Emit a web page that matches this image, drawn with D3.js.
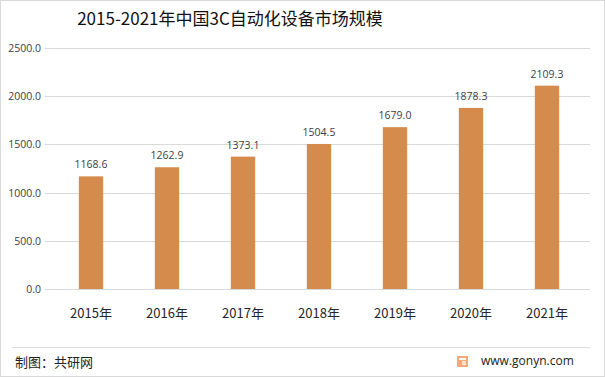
<!DOCTYPE html>
<html>
<head>
<meta charset="utf-8">
<script src="https://cdn.jsdelivr.net/npm/d3@7"></script>
<style>
  body { margin: 0; background: #fff; }
  text { font-family: "Open Sans", "Noto Sans CJK SC", sans-serif; }
</style>
</head>
<body>
<div id="container"></div>
<script>
let years = ['2015年', '2016年', '2017年', '2018年', '2019年', '2020年', '2021年'],
  values = [1168.6, 1262.9, 1373.1, 1504.5, 1679.0, 1878.3, 2109.3],
  yTicks = [0, 500, 1000, 1500, 2000, 2500];

let width = 605, height = 377,
  plot = { left: 53, right: 585, top: 48, bottom: 289 };

let svg = d3.select('#container')
  .append('svg')
  .attr('width', width)
  .attr('height', height)

// outer frame
svg.append('rect')
  .attr('x', 0.5).attr('y', 0.5)
  .attr('width', width - 1).attr('height', height - 1)
  .attr('fill', 'none').attr('stroke', '#d9d9d9')

svg.append('text')
  .attr('x', 230).attr('y', 25)
  .attr('text-anchor', 'middle')
  .style('font-size', '17px')
  .style('fill', '#111')
  .style('font-family', '"Noto Sans CJK SC", sans-serif')
  .text('2015-2021年中国3C自动化设备市场规模')

let y = d3.scaleLinear().domain([0, 2500]).range([plot.bottom, plot.top])
let x = d3.scaleBand().domain(years).range([plot.left, plot.right]).paddingInner(0.68).paddingOuter(0.34)

// grid
svg.append('g').selectAll('line')
  .data(yTicks).enter().append('line')
  .attr('x1', 45).attr('x2', 590)
  .attr('y1', d => Math.round(y(d)) + 0.5)
  .attr('y2', d => Math.round(y(d)) + 0.5)
  .attr('stroke', '#d9d9d9')

svg.append('g').selectAll('text')
  .data(yTicks).enter().append('text')
  .attr('x', 41)
  .attr('y', d => y(d) + 4)
  .attr('text-anchor', 'end')
  .style('font-size', '10.5px')
  .style('fill', '#404040')
  .text(d => d.toFixed(1))

// bars
svg.append('g').selectAll('rect')
  .data(values).enter().append('rect')
  .attr('x', (d, i) => x(years[i]))
  .attr('y', d => y(d))
  .attr('width', x.bandwidth())
  .attr('height', d => plot.bottom - y(d))
  .attr('fill', '#d48b4b')

svg.append('g').selectAll('text')
  .data(values).enter().append('text')
  .attr('x', (d, i) => x(years[i]) + x.bandwidth() / 2)
  .attr('y', d => y(d) - 8)
  .attr('text-anchor', 'middle')
  .style('font-size', '10.5px')
  .style('fill', '#404040')
  .text(d => d.toFixed(1))

// category labels
svg.append('g').selectAll('text')
  .data(years).enter().append('text')
  .attr('x', d => x(d) + x.bandwidth() / 2)
  .attr('y', 318)
  .attr('text-anchor', 'middle')
  .style('font-size', '13px')
  .style('fill', '#262626')
  .style('font-family', '"Noto Sans CJK SC", sans-serif')
  .text(d => d)

// footer
svg.append('line')
  .attr('x1', 12).attr('x2', 590)
  .attr('y1', 347.5).attr('y2', 347.5)
  .attr('stroke', '#dcdcdc')

svg.append('text')
  .attr('x', 15).attr('y', 367)
  .style('font-size', '13px')
  .style('fill', '#222')
  .style('font-family', '"Noto Sans CJK SC", sans-serif')
  .text('制图：共研网')

let logo = svg.append('g').attr('transform', 'translate(457,356)')
logo.append('rect').attr('width', 11).attr('height', 11).attr('fill', '#f3a77a')
logo.append('rect').attr('x', 2).attr('y', 2).attr('width', 7).attr('height', 2).attr('fill', '#fff')
logo.append('rect').attr('x', 5).attr('y', 5).attr('width', 4).attr('height', 4).attr('fill', '#fde3d2')

svg.append('text')
  .attr('x', 481).attr('y', 365)
  .style('font-size', '12px')
  .style('fill', '#222')
  .text('www.gonyn.com')
</script>
</body>
</html>
